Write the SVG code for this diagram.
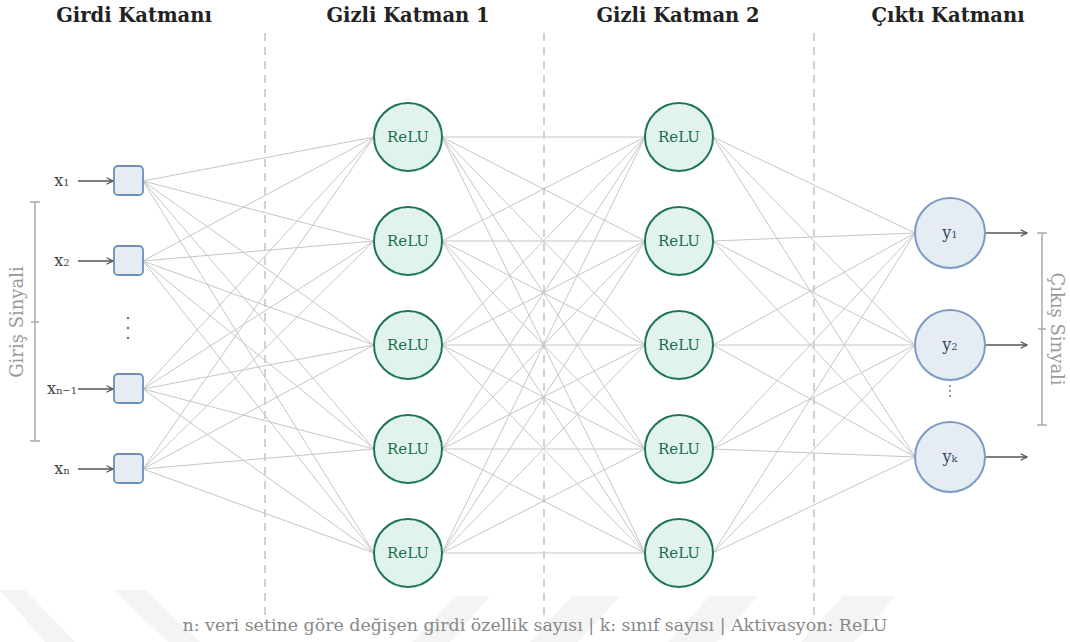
<svg xmlns="http://www.w3.org/2000/svg" width="1070" height="642" viewBox="0 0 1070 642">
<defs>
<marker id="arr" viewBox="0 0 10 10" refX="9" refY="5" markerWidth="8" markerHeight="8" orient="auto" markerUnits="userSpaceOnUse">
<path d="M1,1 L9,5 L1,9" fill="none" stroke="#555" stroke-width="1.6"/>
</marker>
<style>
.title{font-family:"DejaVu Serif","Liberation Serif",serif;font-weight:bold;font-size:19.5px;fill:#222;text-anchor:middle}
.div{stroke:#c4c4c4;stroke-width:1.5;stroke-dasharray:8,6}
.c{stroke:#c6c6c6;stroke-width:1;fill:none}
.in{fill:#e6ecf4;stroke:#6b8fbd;stroke-width:1.8}
.hid{fill:#e0f3ec;stroke:#1d7558;stroke-width:2}
.out{fill:#e6ecf4;stroke:#7e9bc3;stroke-width:2}
.relu{font-family:"DejaVu Serif","Liberation Serif",serif;font-size:15px;fill:#1d6e52;text-anchor:middle}
.lab{font-family:"DejaVu Serif","Liberation Serif",serif;font-size:16px;fill:#444;text-anchor:middle}
.olab{font-family:"DejaVu Serif","Liberation Serif",serif;font-size:16px;fill:#34495e;text-anchor:middle}
.sub{font-size:10px}
.ar{stroke:#555;stroke-width:1.6;fill:none}
.br{stroke:#aaa;stroke-width:1.5;fill:none}
.side{font-family:"DejaVu Serif","Liberation Serif",serif;font-size:18px;fill:#999;text-anchor:middle}
.note{font-family:"DejaVu Serif","Liberation Serif",serif;font-size:17px;fill:#888;text-anchor:middle}
.wm{fill:#f4f4f4}
.dot{fill:#777}
</style>
</defs>
<rect width="1070" height="642" fill="#fff"/>
<g id="watermark">
<polygon class="wm" points="0,590 25,590 75,642 45,642"/>
<polygon class="wm" points="113,590 145,590 200,642 168,642"/>
<polygon class="wm" points="455,596 490,596 450,642 412,642"/>
<polygon class="wm" points="572,596 620,596 578,642 530,642"/>
<polygon class="wm" points="710,596 758,596 716,642 668,642"/>
<polygon class="wm" points="843,596 896,596 854,642 801,642"/>
</g>
<g id="titles">
<text class="title" x="134" y="22">Girdi Katmanı</text>
<text class="title" x="408" y="22">Gizli Katman 1</text>
<text class="title" x="678" y="22">Gizli Katman 2</text>
<text class="title" x="948" y="22">Çıktı Katmanı</text>
</g>
<g id="dividers">
<line class="div" x1="265" y1="33" x2="265" y2="618"/>
<line class="div" x1="544" y1="33" x2="544" y2="618"/>
<line class="div" x1="814" y1="33" x2="814" y2="618"/>
</g>
<g id="connectors">
<path class="c" d="M143,181L374,137M143,181L374,241M143,181L374,345M143,181L374,449M143,181L374,553"/>
<path class="c" d="M143,261L374,137M143,261L374,241M143,261L374,345M143,261L374,449M143,261L374,553"/>
<path class="c" d="M143,389L374,137M143,389L374,241M143,389L374,345M143,389L374,449M143,389L374,553"/>
<path class="c" d="M143,469L374,137M143,469L374,241M143,469L374,345M143,469L374,449M143,469L374,553"/>
<path class="c" d="M442,137L645,137M442,137L645,241M442,137L645,345M442,137L645,449M442,137L645,553"/>
<path class="c" d="M442,241L645,137M442,241L645,241M442,241L645,345M442,241L645,449M442,241L645,553"/>
<path class="c" d="M442,345L645,137M442,345L645,241M442,345L645,345M442,345L645,449M442,345L645,553"/>
<path class="c" d="M442,449L645,137M442,449L645,241M442,449L645,345M442,449L645,449M442,449L645,553"/>
<path class="c" d="M442,553L645,137M442,553L645,241M442,553L645,345M442,553L645,449M442,553L645,553"/>
<path class="c" d="M713,137L915,233M713,137L915,345M713,137L915,457"/>
<path class="c" d="M713,241L915,233M713,241L915,345M713,241L915,457"/>
<path class="c" d="M713,345L915,233M713,345L915,345M713,345L915,457"/>
<path class="c" d="M713,449L915,233M713,449L915,345M713,449L915,457"/>
<path class="c" d="M713,553L915,233M713,553L915,345M713,553L915,457"/>
<line class="ar" x1="78" y1="181" x2="113" y2="181" marker-end="url(#arr)"/>
<line class="ar" x1="78" y1="261" x2="113" y2="261" marker-end="url(#arr)"/>
<line class="ar" x1="78" y1="389" x2="113" y2="389" marker-end="url(#arr)"/>
<line class="ar" x1="78" y1="469" x2="113" y2="469" marker-end="url(#arr)"/>
<line class="ar" x1="986" y1="233" x2="1027" y2="233" marker-end="url(#arr)"/>
<line class="ar" x1="986" y1="345" x2="1027" y2="345" marker-end="url(#arr)"/>
<line class="ar" x1="986" y1="457" x2="1027" y2="457" marker-end="url(#arr)"/>
</g>
<g id="input-1"><rect class="in" x="114" y="166" width="29" height="29" rx="4"/><text class="lab" x="62" y="186">x<tspan class="sub">1</tspan></text></g>
<g id="input-2"><rect class="in" x="114" y="246" width="29" height="29" rx="4"/><text class="lab" x="62" y="266">x<tspan class="sub">2</tspan></text></g>
<g id="input-dots"><circle class="dot" cx="128" cy="318" r="1.3"/><circle class="dot" cx="128" cy="328" r="1.3"/><circle class="dot" cx="128" cy="338" r="1.3"/></g>
<g id="input-n1"><rect class="in" x="114" y="374" width="29" height="29" rx="4"/><text class="lab" x="62" y="394">x<tspan class="sub">n−1</tspan></text></g>
<g id="input-n"><rect class="in" x="114" y="454" width="29" height="29" rx="4"/><text class="lab" x="62" y="474">x<tspan class="sub">n</tspan></text></g>
<g id="h1-1"><circle class="hid" cx="408" cy="137" r="34"/><text class="relu" x="408" y="142">ReLU</text></g>
<g id="h1-2"><circle class="hid" cx="408" cy="241" r="34"/><text class="relu" x="408" y="246">ReLU</text></g>
<g id="h1-3"><circle class="hid" cx="408" cy="345" r="34"/><text class="relu" x="408" y="350">ReLU</text></g>
<g id="h1-4"><circle class="hid" cx="408" cy="449" r="34"/><text class="relu" x="408" y="454">ReLU</text></g>
<g id="h1-5"><circle class="hid" cx="408" cy="553" r="34"/><text class="relu" x="408" y="558">ReLU</text></g>
<g id="h2-1"><circle class="hid" cx="679" cy="137" r="34"/><text class="relu" x="679" y="142">ReLU</text></g>
<g id="h2-2"><circle class="hid" cx="679" cy="241" r="34"/><text class="relu" x="679" y="246">ReLU</text></g>
<g id="h2-3"><circle class="hid" cx="679" cy="345" r="34"/><text class="relu" x="679" y="350">ReLU</text></g>
<g id="h2-4"><circle class="hid" cx="679" cy="449" r="34"/><text class="relu" x="679" y="454">ReLU</text></g>
<g id="h2-5"><circle class="hid" cx="679" cy="553" r="34"/><text class="relu" x="679" y="558">ReLU</text></g>
<g id="out-1"><circle class="out" cx="950" cy="233" r="35"/><text class="olab" x="950" y="238">y<tspan class="sub">1</tspan></text></g>
<g id="out-2"><circle class="out" cx="950" cy="345" r="35"/><text class="olab" x="950" y="350">y<tspan class="sub">2</tspan></text></g>
<g id="out-dots"><circle class="dot" cx="950" cy="386" r="1"/><circle class="dot" cx="950" cy="391" r="1"/><circle class="dot" cx="950" cy="396" r="1"/></g>
<g id="out-k"><circle class="out" cx="950" cy="457" r="35"/><text class="olab" x="950" y="462">y<tspan class="sub">k</tspan></text></g>
<g id="input-bracket">
<path class="br" d="M35,202V441M30,202H40M30,441H40M31,322H39"/>
<text class="side" transform="translate(23,322) rotate(-90)">Giriş Sinyali</text>
</g>
<g id="output-bracket">
<path class="br" d="M1042,233V425M1037,233H1047M1037,425H1047M1038,329H1046"/>
<text class="side" transform="translate(1051,329) rotate(90)">Çıkış Sinyali</text>
</g>
<text class="note" x="535" y="631" textLength="705" lengthAdjust="spacingAndGlyphs">n: veri setine göre değişen girdi özellik sayısı | k: sınıf sayısı | Aktivasyon: ReLU</text>
</svg>
